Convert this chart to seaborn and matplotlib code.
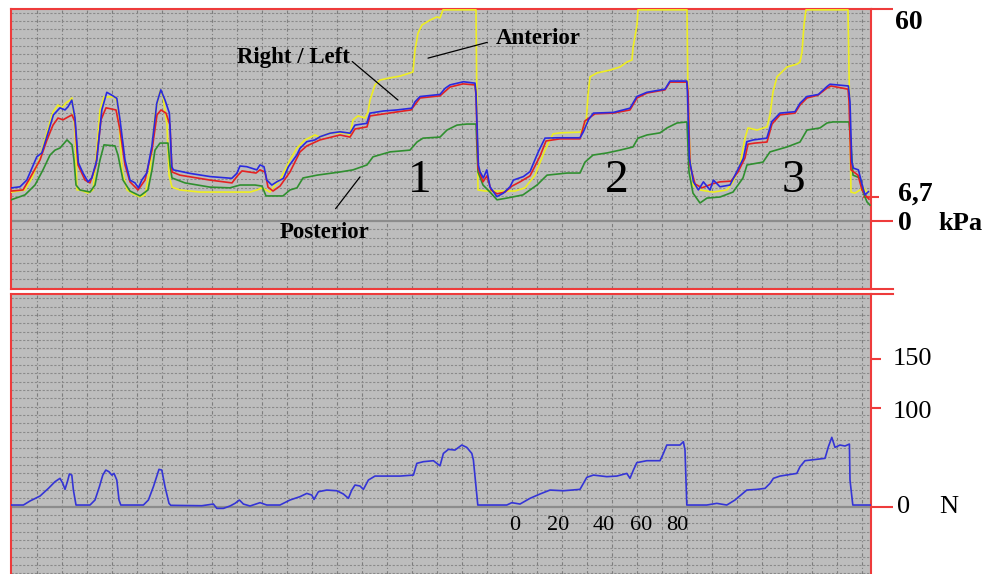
import numpy as np
import pandas as pd
import matplotlib
matplotlib.use('Agg')
import matplotlib.pyplot as plt
import seaborn as sns

# ---- data: time in s, pressure in kPa, force in N ----
left_t = [0.4, 4.5, 7.9, 12.9, 15.4, 17.9, 21.2, 24.5, 27.0, 28.5, 30.4, 32.0, 33.7, 36.0, 38.5, 40.4,
          42.9, 45.4, 47.9, 50.4, 52.9, 54.5, 57.0, 59.5, 62.0, 63.7, 65.4, 67.9, 70.4, 72.9, 74.9, 77.0,
          79.2, 80.4, 81.2, 89.5, 99.5, 110.4, 112.9, 114.5, 117.9, 122.9, 124.5, 126.5, 127.9, 130.4,
          132.9, 136.2, 138.7, 142.9, 144.5, 147.9, 152.0, 154.5, 159.5, 164.5, 169.5, 172.0, 177.9, 179.5,
          186.2, 192.9, 200.4, 202.0, 204.5, 214.5, 217.0, 219.5, 226.2, 232.0, 232.5, 233.7, 234.5, 236.2,
          237.9, 239.5, 242.9, 246.2, 249.5, 251.2, 256.2, 259.5, 263.7, 267.0, 272.9, 284.5, 286.2, 288.7,
          291.2, 301.2, 309.5, 312.9, 317.9, 327.0, 329.5, 337.9, 338.2, 339.2, 341.2, 343.7, 346.2, 349.5,
          351.2, 354.5, 359.5, 362.9, 366.2, 367.9, 371.2, 377.9, 380.4, 384.5, 392.0, 394.5, 397.9, 403.7,
          407.9, 409.5, 418.7, 419.5, 420.4, 421.2, 423.7, 425.4, 427.0, 428.7]
left_kpa = [9.4, 9.7, 11.6, 18.2, 19.3, 23.9, 30.1, 32.1, 31.5, 32.4, 34.3, 29.2, 16.5, 13.6, 11.1, 12.2,
            17.3, 31.5, 36.5, 35.7, 34.8, 28.7, 17.3, 11.6, 10.8, 9.4, 11.6, 13.6, 21.1, 33.4, 37.2, 34.3,
            30.6, 15.4, 14.5, 13.5, 12.6, 12.1, 13.5, 15.6, 15.4, 14.5, 15.9, 15.4, 11.6, 10.2,
            11.1, 12.1, 15.4, 18.7, 20.6, 22.5, 23.0, 23.9, 24.9, 25.3, 24.9, 27.2, 27.7, 30.6,
            31.2, 31.5, 32.0, 33.8, 35.3, 35.9, 37.6, 38.6, 39.5, 39.1, 36.2, 15.9, 14.0, 12.2,
            14.5, 9.7, 6.9, 7.9, 9.7, 11.6, 12.6, 14.0, 19.7, 23.5, 23.6, 23.6, 25.3, 28.7,
            30.6, 30.8, 32.0, 35.3, 36.5, 37.4, 39.7, 39.7, 36.7, 17.8, 11.1, 8.8, 11.1, 8.8,
            11.6, 9.7, 10.2, 14.0, 17.8, 22.5, 23.0, 23.5, 28.2, 30.6, 31.0, 33.4, 35.3, 35.9,
            38.1, 38.8, 38.3, 33.8, 16.8, 15.0, 14.5, 10.7, 7.4, 8.3]

right_t = [0.4, 6.0, 9.5, 14.5, 18.0, 21.0, 23.5, 26.0, 28.5, 30.5, 32.0, 33.5, 37.0, 39.5, 42.5, 45.0,
           47.5, 52.5, 54.5, 57.0, 59.5, 63.5, 67.0, 70.5, 73.0, 75.0, 77.5, 79.5, 80.5, 84.5, 99.5, 110.5,
           113.5, 115.5, 122.5, 124.5, 127.0, 128.5, 131.0, 134.5, 139.5, 144.5, 147.9, 154.5, 164.5, 169.5,
           172.0, 178.0, 179.5, 192.5, 200.0, 204.5, 214.5, 219.5, 226.0, 232.0, 232.5, 233.5, 236.0, 238.0,
           240.0, 243.0, 247.0, 250.5, 254.5, 259.5, 264.5, 267.5, 274.5, 284.5, 287.0, 292.0, 301.0, 309.5,
           313.0, 318.0, 327.0, 329.5, 338.0, 338.5, 339.5, 342.0, 345.5, 350.5, 354.5, 360.0, 363.5, 367.0,
           368.5, 372.0, 378.0, 380.5, 384.5, 392.0, 394.5, 398.0, 403.5, 408.0, 410.0, 418.5, 419.0, 420.0,
           423.5, 425.5, 427.5, 429.0]
right_kpa = [8.5, 8.8, 12.2, 17.3, 23.0, 27.2, 29.2, 28.7, 29.5, 30.1, 28.1, 15.9, 11.6, 10.8, 15.9, 28.7,
             32.1, 31.5, 25.8, 15.9, 11.1, 8.8, 11.6, 20.1, 30.1, 31.5, 30.6, 27.2, 13.9, 13.0, 11.6, 10.8,
             13.0, 14.2, 13.6, 14.5, 13.9, 9.6, 8.5, 9.9, 13.9, 19.6, 21.3, 23.0, 24.4, 23.8,
             26.1, 26.7, 29.8, 30.9, 31.5, 34.9, 35.5, 38.0, 38.9, 38.6, 35.7, 15.0, 11.1, 12.8,
             8.8, 7.7, 8.2, 9.9, 11.1, 12.8, 18.4, 22.7, 23.3, 23.3, 28.4, 30.4, 30.6, 31.5,
             34.9, 36.3, 37.2, 39.4, 39.4, 36.6, 15.9, 10.5, 9.4, 10.5, 11.1, 11.3, 13.9, 17.9,
             21.8, 22.1, 22.4, 27.5, 30.1, 30.6, 32.9, 34.9, 35.7, 37.7, 38.3, 37.4, 34.0, 14.5,
             13.0, 8.8, 7.1, 6.2]

anterior_t = [0.4, 7.0, 10.5, 14.5, 18.0, 21.0, 23.5, 25.5, 27.5, 29.5, 30.5, 32.0, 33.0, 34.5, 38.5, 41.0,
              42.5, 44.5, 46.5, 52.0, 53.5, 55.5, 58.0, 61.0, 64.5, 67.0, 69.5, 72.0, 74.5, 76.0, 78.0, 79.0,
              80.5, 84.5, 94.5, 119.5, 123.0, 125.5, 127.5, 129.5, 132.0, 134.5, 137.0, 139.5, 143.0, 147.0,
              152.0, 154.5, 159.5, 167.0, 169.5, 171.0, 173.5, 177.0, 178.5, 179.5, 182.0, 184.5, 189.5, 194.5,
              199.5, 201.0, 202.0, 203.5, 205.5, 209.5, 213.0, 214.5, 216.0, 232.5, 233.0, 233.5, 237.0, 244.5,
              252.0, 257.0, 262.0, 267.0, 271.0, 274.5, 284.5, 287.5, 288.5, 289.5, 293.0, 299.5, 304.5, 308.0,
              310.5, 311.0, 313.0, 313.5, 338.0, 338.5, 339.5, 341.0, 344.5, 351.0, 358.0, 361.0, 364.5, 367.0,
              368.5, 373.0, 378.0, 379.5, 381.0, 383.0, 388.0, 393.0, 394.5, 395.5, 396.5, 397.5, 418.5, 419.0,
              420.0, 422.0, 424.5, 426.0, 428.0, 428.5]
anterior_kpa = [8.2, 8.8, 12.2, 17.9, 25.2, 30.9, 32.9, 32.1, 33.5, 34.3, 34.9, 25.8, 8.8, 8.8, 7.9, 8.8,
                17.3, 31.5, 35.2, 35.2, 32.9, 14.5, 8.8, 7.7, 6.8, 7.4, 14.5, 30.1, 36.9, 35.5, 27.2, 13.0,
                9.6, 8.8, 8.2, 8.2, 8.8, 9.4, 8.8, 8.2, 10.2, 11.6, 14.5, 17.3, 20.7, 23.0,
                24.4, 23.8, 25.0, 25.0, 24.4, 28.7, 29.8, 29.2, 30.9, 34.3, 38.6, 40.0, 40.6, 41.1,
                42.0, 42.3, 48.5, 53.3, 55.6, 57.0, 57.9, 57.6, 59.9, 59.9, 28.7, 8.8, 8.5, 8.5,
                8.5, 9.4, 13.0, 20.1, 24.7, 25.0, 25.2, 27.2, 35.7, 40.9, 42.0, 42.8, 43.7, 45.1,
                45.7, 49.1, 55.6, 59.9, 59.9, 32.9, 17.9, 10.2, 8.8, 8.2, 8.8, 11.1, 15.9, 23.5,
                26.4, 25.8, 26.7, 30.1, 36.6, 40.9, 43.7, 44.5, 45.1, 47.9, 55.6, 59.9, 59.9, 42.3,
                8.2, 7.9, 8.8, 9.6, 8.2, 7.9]

posterior_t = [0.0, 7.0, 12.0, 16.0, 19.5, 22.0, 24.5, 28.0, 30.5, 31.5, 32.5, 34.5, 39.5, 42.0, 44.5, 46.5,
               52.0, 53.5, 56.0, 59.5, 64.5, 68.5, 70.5, 72.0, 74.5, 78.5, 79.5, 80.5, 87.0, 99.5, 109.5, 114.5,
               122.0, 125.5, 127.5, 136.0, 139.5, 143.0, 146.0, 153.0, 164.5, 171.0, 178.0, 181.0, 189.5, 199.5,
               203.0, 206.0, 214.5, 218.0, 223.0, 228.0, 232.5, 233.5, 236.0, 239.5, 243.0, 248.0, 256.0, 263.0,
               268.0, 278.0, 284.5, 287.0, 291.0, 298.0, 304.5, 311.0, 313.5, 318.0, 324.5, 328.0, 333.0, 338.0,
               338.2, 339.0, 341.0, 344.5, 348.0, 354.5, 361.0, 366.0, 368.0, 376.0, 379.5, 388.0, 394.5, 398.0,
               404.5, 408.0, 411.0, 419.0, 420.0, 421.0, 424.5, 426.0, 428.0, 429.5]
posterior_kpa = [6.0, 7.4, 10.2, 14.5, 18.7, 20.1, 20.7, 23.0, 21.6, 17.3, 10.2, 8.8, 8.2, 10.2, 17.3, 21.6,
                 21.3, 18.7, 11.6, 8.5, 7.1, 8.8, 14.5, 20.1, 22.1, 22.1, 15.9, 12.2, 10.8, 9.6, 9.4, 10.2,
                 10.2, 9.9, 7.1, 7.1, 8.8, 9.4, 12.2, 13.0, 13.9, 14.5, 15.9, 18.2, 19.6, 20.1,
                 22.4, 23.5, 23.8, 25.8, 27.2, 27.5, 27.5, 13.9, 10.2, 8.2, 6.0, 6.5, 7.4, 10.2,
                 13.0, 13.6, 13.6, 16.7, 18.7, 19.3, 20.1, 21.0, 23.5, 24.4, 25.0, 26.4, 27.8, 28.1,
                 25.2, 13.9, 7.9, 5.1, 6.5, 6.8, 8.2, 12.2, 15.9, 16.7, 19.6, 21.0, 22.4, 25.8,
                 26.4, 27.8, 28.1, 28.1, 21.6, 13.0, 12.2, 8.2, 5.4, 4.5]

force_t = [0.0, 6.2, 9.5, 14.5, 18.7, 22.0, 24.5, 25.9, 27.0, 28.2, 29.2, 30.4, 31.2, 32.5, 39.5, 42.0,
           44.2, 45.9, 47.4, 49.0, 50.4, 51.5, 52.9, 54.0, 54.9, 66.2, 68.7, 71.2, 74.0, 75.4, 77.0, 79.0,
           79.9, 95.4, 101.2, 102.9, 106.2, 109.5, 112.0, 114.2, 116.2, 119.5, 124.5, 127.9, 134.5, 139.5,
           144.5, 147.9, 150.4, 151.5, 153.7, 157.9, 162.9, 166.2, 168.7, 170.4, 172.0, 174.5, 176.2, 178.7,
           182.0, 187.9, 194.5, 201.2, 202.9, 206.2, 211.2, 214.5, 216.2, 218.7, 222.0, 225.4, 227.9, 230.4,
           231.2, 232.5, 233.4, 247.9, 250.4, 254.5, 259.5, 264.5, 269.5, 276.2, 284.5, 287.9, 291.2, 297.9,
           302.9, 307.9, 309.5, 311.2, 312.9, 317.9, 324.5, 326.2, 327.9, 334.5, 336.2, 337.0, 337.9, 347.9,
           352.9, 357.9, 362.0, 367.9, 372.9, 377.0, 379.5, 381.2, 384.5, 392.9, 394.5, 397.0, 402.9, 407.0,
           408.7, 410.4, 412.0, 414.5, 417.0, 419.2, 419.5, 420.9, 430.0]
force_n = [1.7, 1.7, 5.8, 10.8, 18.6, 25.4, 28.8, 23.7, 17.6, 25.4, 33.2, 32.1, 16.9, 1.7, 1.7, 6.8,
           20.3, 32.1, 37.2, 35.5, 32.1, 33.8, 27.1, 6.8, 1.7, 1.7, 6.8, 20.3, 37.9, 37.2, 20.3, 3.4,
           1.4, 1.0, 2.7, -1.7, -1.7, 0.7, 3.4, 6.8, 2.7, 0.7, 4.1, 1.7, 1.7, 6.8,
           10.2, 13.5, 11.8, 7.4, 15.2, 16.9, 16.2, 12.9, 8.5, 16.9, 22.0, 21.0, 17.6, 27.1,
           31.1, 31.1, 31.1, 32.1, 44.0, 45.7, 46.7, 41.5, 54.1, 58.2, 57.5, 62.6, 60.2, 54.1,
           47.4, 20.3, 1.7, 1.7, 4.1, 2.7, 8.5, 12.9, 16.9, 16.2, 17.6, 29.8, 32.1, 30.5,
           31.1, 33.8, 28.8, 37.2, 44.7, 46.7, 46.7, 54.1, 62.6, 62.6, 66.0, 57.5, 1.7, 1.7,
           3.4, 1.7, 6.8, 16.9, 17.6, 18.6, 23.7, 28.8, 31.1, 33.8, 40.6, 46.7, 48.1, 49.1,
           60.9, 70.4, 60.2, 62.6, 61.6, 63.6, 27.1, 1.7, 1.7]

cycle_labels = ['1', '2', '3']
scale_labels = ['0', '20', '40', '60', '80']

# long-form tables for seaborn
pressure = pd.concat([
    pd.DataFrame({'t': anterior_t, 'kPa': anterior_kpa, 'sensor': 'Anterior'}),
    pd.DataFrame({'t': posterior_t, 'kPa': posterior_kpa, 'sensor': 'Posterior'}),
    pd.DataFrame({'t': right_t, 'kPa': right_kpa, 'sensor': 'Right'}),
    pd.DataFrame({'t': left_t, 'kPa': left_kpa, 'sensor': 'Left'}),
], ignore_index=True)
force = pd.DataFrame({'t': force_t, 'N': force_n})

palette = {'Anterior': '#eeee22', 'Posterior': '#2f8f2f', 'Right': '#e42222', 'Left': '#2a2ae0'}
bg = '#bdbdbd'
frame = '#ee3b3b'
plt.rcParams['font.family'] = ['Liberation Serif', 'DejaVu Serif']

fig = plt.figure(figsize=(9.9, 5.74), dpi=100)
ax_top = fig.add_axes([11 / 990, 285 / 574, 860 / 990, 280 / 574])
ax_bot = fig.add_axes([11 / 990, 0, 860 / 990, 280 / 574])

t_max = 430
top_lim = (-19.3, 60.14)
bot_lim = (-68.3, 215.9)


def style_panel(ax, ylim, hstep):
    ax.set_facecolor(bg)
    ax.set_xlim(0, t_max)
    ax.set_ylim(*ylim)
    for x in np.arange(13, t_max, 12.5):
        ax.axvline(x, color='#7d7d7d', lw=0.8, ls=(0, (3, 2, 1, 2)), zorder=0)
    for y in np.concatenate([np.arange(hstep, ylim[1], hstep), -np.arange(hstep, -ylim[0], hstep)]):
        ax.axhline(y, color='#8a8a8a', lw=0.8, ls=(0, (2, 1.5)), zorder=0)
    ax.axhline(0, color='#8c8c8c', lw=1.6, zorder=1)
    ax.set_xticks([])
    ax.yaxis.tick_right()
    for s in ax.spines.values():
        s.set_color(frame)
        s.set_linewidth(1.5)


style_panel(ax_top, top_lim, 2.364)
style_panel(ax_bot, bot_lim, 8.46)

sns.lineplot(data=pressure, x='t', y='kPa', hue='sensor', palette=palette,
             hue_order=['Anterior', 'Posterior', 'Right', 'Left'],
             estimator=None, sort=False, lw=1.2, legend=False, ax=ax_top, zorder=3)
sns.lineplot(data=force, x='t', y='N', color='#3434d6', estimator=None, sort=False,
             lw=1.2, ax=ax_bot, zorder=3)
for ax in (ax_top, ax_bot):
    ax.set_xlabel('')
    ax.set_ylabel('')

# right-hand ticks
ax_top.set_yticks([0, 60], labels=['', ''])
ax_top.set_yticks([6.7], labels=[''], minor=True)
ax_top.tick_params(axis='y', which='major', length=16, width=1.5, color=frame)
ax_top.tick_params(axis='y', which='minor', direction='inout', length=11, width=1.5, color=frame)
ax_bot.set_yticks([0], labels=[''])
ax_bot.set_yticks([100, 150], labels=['', ''], minor=True)
ax_bot.tick_params(axis='y', which='major', length=16, width=1.5, color=frame)
ax_bot.tick_params(axis='y', which='minor', length=7, width=1.5, color=frame)
ax_bot.spines['bottom'].set_visible(False)

# broken-axis marks
ax_top.plot([1, 1.026], [0, 0], transform=ax_top.transAxes, color=frame, lw=1.5, clip_on=False)
ax_bot.plot([1, 1.026], [1, 1], transform=ax_bot.transAxes, color=frame, lw=1.5, clip_on=False)

ty = ax_top.get_yaxis_transform()
by = ax_bot.get_yaxis_transform()
ax_top.text(1.028, 56.3, '60', transform=ty, fontsize=20, fontweight='bold', va='center')
ax_top.text(1.031, 7.6, '6,7', transform=ty, fontsize=20, fontweight='bold', va='center')
ax_top.text(1.031, -0.6, '0', transform=ty, fontsize=20, fontweight='bold', va='center')
ax_top.text(1.078, -0.6, 'kPa', transform=ty, fontsize=19, fontweight='bold', va='center')
ax_bot.text(1.025, 150, '150', transform=by, fontsize=19, va='center')
ax_bot.text(1.025, 96, '100', transform=by, fontsize=19, va='center')
ax_bot.text(1.030, 0, '0', transform=by, fontsize=19, va='center')
ax_bot.text(1.079, 0, 'N', transform=by, fontsize=19, va='center')

# annotations
ax_top.annotate('Right / Left', xy=(193.5, 34.3), xytext=(141, 46.5), fontsize=16.5, fontweight='bold',
                ha='center', va='center', arrowprops=dict(arrowstyle='-', color='black', lw=0.9,
                                                          shrinkA=0, shrinkB=0, relpos=(1.0, 0.4)))
ax_top.annotate('Anterior', xy=(208.5, 46.2), xytext=(263.5, 51.9), fontsize=16.5, fontweight='bold',
                ha='center', va='center', arrowprops=dict(arrowstyle='-', color='black', lw=0.9,
                                                          shrinkA=4, shrinkB=0, relpos=(0.0, 0.4)))
ax_top.annotate('Posterior', xy=(174.5, 12.5), xytext=(157, -3.4), fontsize=16.5, fontweight='bold',
                ha='center', va='center', arrowprops=dict(arrowstyle='-', color='black', lw=0.9,
                                                          shrinkA=10, shrinkB=0, relpos=(0.5, 1.0)))
for lab, x in zip(cycle_labels, [204.5, 303, 391]):
    ax_top.text(x, 11.3, lab, fontsize=34, ha='center', va='center')
for lab, x in zip(scale_labels, [252, 273.7, 296.5, 315.3, 333]):
    ax_bot.text(x, -18.6, lab, fontsize=16, ha='center', va='center')

fig.savefig('out.png', dpi=100, facecolor='white')
